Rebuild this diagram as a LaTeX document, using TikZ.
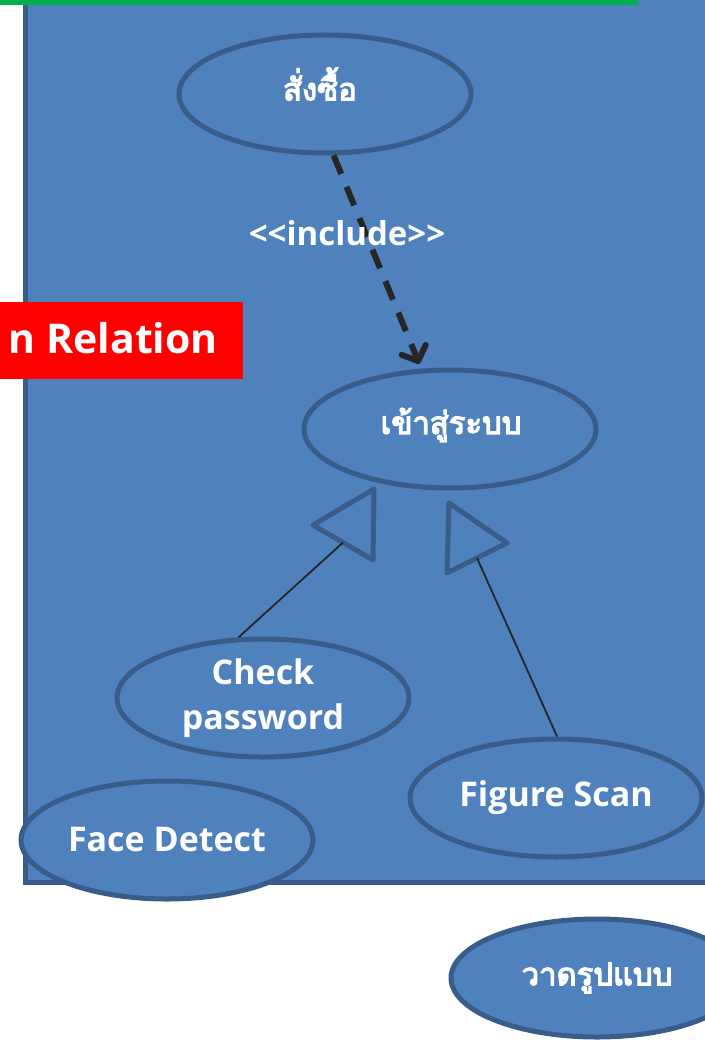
\documentclass[tikz,border=0pt]{standalone}
\usepackage{fontspec}
\setmainfont{Open Sans}
\newfontfamily\thaifont[Script=Thai, FakeBold=4]{Loma}
\usetikzlibrary{shapes.geometric,arrows.meta,calc}
\definecolor{ucfill}{HTML}{4F81BD}
\definecolor{ucline}{HTML}{385D8A}
\definecolor{barcol}{HTML}{00B050}
\definecolor{tagred}{HTML}{FF0000}
\definecolor{inkline}{HTML}{262626}
\tikzset{
  usecase/.style={ellipse, draw=ucline, fill=ucfill, line width=5pt,
    minimum width=292pt, minimum height=118pt, inner sep=0pt,
    text=white, font=\bfseries\fontsize{34}{45}\selectfont, align=center},
  thaicase/.style={usecase, font=\thaifont\fontsize{31}{40}\selectfont},
  thaitext/.style={text=white, inner sep=0pt, font=\thaifont\fontsize{31}{40}\selectfont},
  genhead/.style={draw=ucline, line width=5pt, line join=round},
  genline/.style={draw=inkline, line width=1.8pt},
  incline/.style={draw=inkline, line width=6pt, dash pattern=on 20pt off 14pt,
    -{Straight Barb[length=12pt,width=26pt,line width=6pt,round]}}
}
\begin{document}
\begin{tikzpicture}[x=1pt,y=-1pt]
\useasboundingbox (0,0) rectangle (704,1040);
% system boundary
\draw[fill=ucfill, draw=ucline, line width=5pt] (25,-20) rectangle (730,882);
% top bar
\fill[barcol] (0,0) rectangle (638,5);
% section tag
\node[fill=tagred, minimum width=243pt, minimum height=77pt, inner sep=0pt,
  anchor=north west] (tag) at (0,302) {};
\node[anchor=east, text=white, font=\bfseries\fontsize{41}{48}\selectfont, inner sep=0pt]
  (taglabel) at (218,338) {n Relation};
% use cases
\node[thaicase] (order) at (325,94) {};
\node[thaitext] (ordert) at (320,84) {สั่งซื้อ};
\node[thaicase] (login) at (450,429) {};
\node[thaitext] (logint) at (451,425) {เข้าสู่ระบบ};
\node[usecase] (check) at (263,698) {Check\\password};
\node[usecase] (figure) at (556,798) {Figure Scan};
\node[usecase] (face) at (167,840) {Face Detect};
\node[thaicase] (draw) at (597,978) {วาดรูปแบบ};
% include relation
\draw[incline] (order.-82) -- ([shift={(0,-5)}]login.117);
\node[text=white, font=\bfseries\fontsize{33}{40}\selectfont, inner sep=0pt] (inc) at (347,233) {{<}{<}include{>}{>}};
% generalization heads
\coordinate (ta1) at (374,489);
\coordinate (ta2) at (313,525);
\coordinate (ta3) at (373,560);
\coordinate (tb1) at (449,503);
\coordinate (tb2) at (507,543);
\coordinate (tb3) at (447,573);
\draw[genhead] (ta1) -- (ta2) -- (ta3) -- cycle;
\draw[genhead] (tb1) -- (tb2) -- (tb3) -- cycle;
\coordinate (ma) at ($(ta2)!0.5!(ta3)$);
\coordinate (mb) at ($(tb2)!0.5!(tb3)$);
\draw[genline] (ma) -- (check.112);
\draw[genline] (mb) -- (figure.89);
\end{tikzpicture}
\end{document}
